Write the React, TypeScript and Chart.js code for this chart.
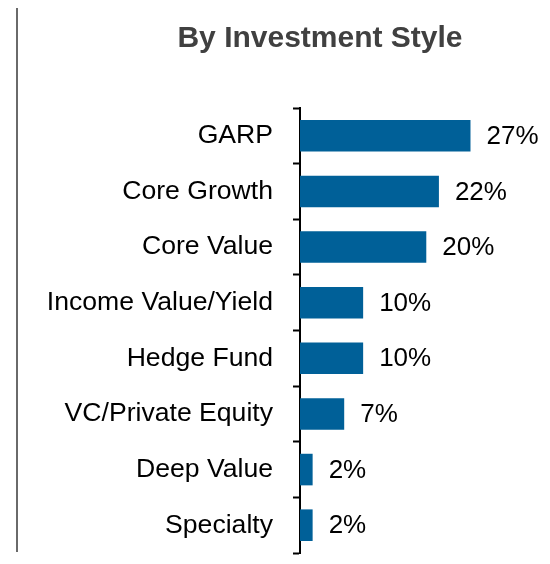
import React, { useEffect, useRef } from "react";
import { Chart, registerables } from "chart.js";

Chart.register(...registerables);

const categories = [
  "GARP",
  "Core Growth",
  "Core Value",
  "Income Value/Yield",
  "Hedge Fund",
  "VC/Private Equity",
  "Deep Value",
  "Specialty",
];
const values = [27, 22, 20, 10, 10, 7, 2, 2];
const titleText = "By Investment Style";

const FONT = "'Liberation Sans', Arial, sans-serif";

const decorPlugin = {
  id: "decor",
  afterDraw(chart: any) {
    const ctx = chart.ctx;
    ctx.save();
    // left separator line
    ctx.strokeStyle = "#6a6a6a";
    ctx.lineWidth = 2;
    ctx.beginPath();
    ctx.moveTo(17, 8);
    ctx.lineTo(17, 552);
    ctx.stroke();
    // title
    ctx.fillStyle = "#404040";
    ctx.font = `bold 30px ${FONT}`;
    ctx.textAlign = "center";
    ctx.textBaseline = "alphabetic";
    ctx.fillText(titleText, 320, 47);
    // value labels
    const meta = chart.getDatasetMeta(0);
    ctx.fillStyle = "#000000";
    ctx.font = `26px ${FONT}`;
    ctx.textAlign = "left";
    ctx.textBaseline = "middle";
    meta.data.forEach((bar: any, i: number) => {
      ctx.fillText(`${values[i]}%`, bar.x + 16, bar.y + 1);
    });
    ctx.restore();
  },
};

export default function App() {
  const ref = useRef<HTMLCanvasElement | null>(null);
  useEffect(() => {
    if (!ref.current) return;
    const chart = new Chart(ref.current, {
      type: "bar",
      data: {
        labels: categories,
        datasets: [
          {
            data: values,
            backgroundColor: "#006098",
            borderWidth: 0,
            barPercentage: 0.8,
            categoryPercentage: 0.71,
          },
        ],
      },
      options: {
        indexAxis: "y",
        animation: false,
        responsive: false,
        maintainAspectRatio: false,
        layout: { padding: { top: 108, bottom: 11, left: 0, right: 29 } },
        plugins: {
          legend: { display: false },
          title: { display: false },
          tooltip: { enabled: false },
        },
        scales: {
          x: { display: false, min: 0, max: 35 },
          y: {
            afterFit(scale: any) {
              scale.width = 300;
              scale.paddingTop = 0;
              scale.paddingBottom = 0;
            },
            border: { display: true, color: "#000000", width: 2 },
            grid: {
              drawOnChartArea: false,
              drawTicks: true,
              tickLength: 7,
              tickWidth: 2,
              tickColor: "#000000",
              offset: true,
            },
            ticks: {
              color: "#000000",
              padding: 20,
              font: { family: FONT, size: 26.6 },
            },
          },
        },
      },
      plugins: [decorPlugin],
    });
    return () => chart.destroy();
  }, []);
  return (
    <div style={{ position: "absolute", left: 0, top: 0, width: 550, height: 564 }}>
      <canvas ref={ref} width={550} height={564} />
    </div>
  );
}
